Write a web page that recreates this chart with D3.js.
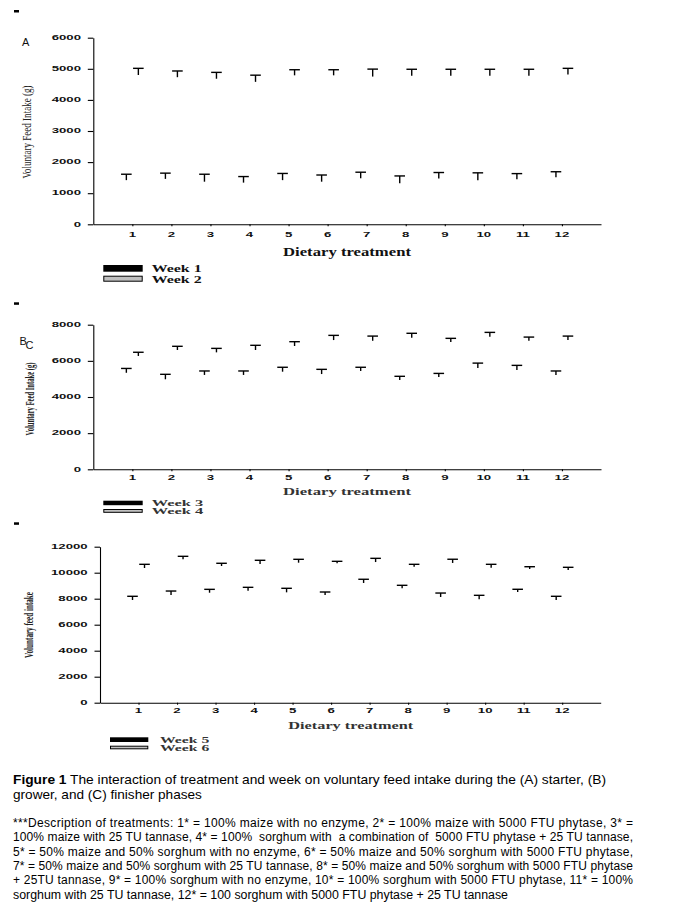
<!DOCTYPE html>
<html><head><meta charset="utf-8">
<script src="https://cdn.jsdelivr.net/npm/d3@7/dist/d3.min.js"></script>
<style>body{margin:0;background:#fff}svg{display:block}</style>
</head><body>
<svg id="c" width="678" height="910"></svg>
<script>
// ---------- DATA ----------
const treatments = [1,2,3,4,5,6,7,8,9,10,11,12];
const panelLetters = ["A","B","C"];
const weekNames = ["Week 1","Week 2","Week 3","Week 4","Week 5","Week 6"];
const yTitles = ["Voluntary Feed Intake (g)","Voluntary Feed Intake (g)","Voluntary feed intake"];
const xTitle = "Dietary treatment";

const week1Mean = [1420,1460,1370,1340,1420,1370,1480,1320,1470,1420,1450,1510];
const week1Err  = [190,185,240,195,215,215,195,235,195,235,180,180];
const week2Mean = [4800,4730,4680,4580,4790,4790,4750,4780,4780,4780,4780,4820];
const week2Err  = [215,200,205,215,180,180,240,205,205,205,205,195];

const week3Mean = [5340,4980,5220,5220,5400,5270,5440,4940,5100,5600,5490,5220];
const week3Err  = [240,275,220,220,245,260,205,205,205,275,260,220];
const week4Mean = [6270,6600,6470,6600,6820,7150,7110,7280,7040,7330,7110,7150];
const week4Err  = [205,205,220,260,240,260,260,245,205,245,205,220];

const week5Mean = [7900,8285,8460,8615,8490,8285,9210,8800,8130,7950,8515,7900];
const week5Err  = [285,305,260,260,310,230,285,230,305,310,210,285];
const week6Mean = [10360,11030,10515,10670,10770,10720,10820,10460,10750,10385,10285,10210];
const week6Err  = [285,230,210,285,260,155,285,185,285,260,175,205];

const yTicksA = [0,1000,2000,3000,4000,5000,6000];
const yTicksB = [0,2000,4000,6000,8000];
const yTicksC = [0,2000,4000,6000,8000,10000,12000];

const captionTitle = "Figure 1";
const captionLines = [
  " The interaction of treatment and week on voluntary feed intake during the (A) starter, (B)",
  "grower, and (C) finisher phases"
];
const descLines = [
  "***Description of treatments: 1* = 100% maize with no enzyme, 2* = 100% maize with 5000 FTU phytase, 3* =",
  "100% maize with 25 TU tannase, 4* = 100%  sorghum with  a combination of  5000 FTU phytase + 25 TU tannase,",
  "5* = 50% maize and 50% sorghum with no enzyme, 6* = 50% maize and 50% sorghum with 5000 FTU phytase,",
  "7* = 50% maize and 50% sorghum with 25 TU tannase, 8* = 50% maize and 50% sorghum with 5000 FTU phytase",
  "+ 25TU tannase, 9* = 100% sorghum with no enzyme, 10* = 100% sorghum with 5000 FTU phytase, 11* = 100%",
  "sorghum with 25 TU tannase, 12* = 100 sorghum with 5000 FTU phytase + 25 TU tannase"
];

// ---------- DRAW ----------
const svg = d3.select("#c");

function squat(parent, x, y, txt, anchor, size, sx, weight) {
  parent.append("g").attr("transform", `translate(${x},${y}) scale(${sx},1)`)
    .append("text").attr("text-anchor", anchor).attr("dominant-baseline", "central")
    .attr("font-family", "Liberation Sans, Arial, sans-serif")
    .attr("font-weight", weight || "bold").attr("font-size", size).attr("fill", "#111")
    .text(txt);
}

const panels = [
  {mark: 10, left: 93.3, right: 601, top: 37.7, bottom: 224.3, ymax: 6000, ticks: yTicksA,
   series: [[week1Mean, week1Err],[week2Mean, week2Err]], weeks: [weekNames[0], weekNames[1]],
   yTitle: yTitles[0], yTitleX: 27, yTitleY: 132, yTitleLen: 93, yTitleSize: 12.5,
   xTitleY: 252, xTitleSize: 12, xTitleX0: 283, xTitleLen: 128, xLabDy: 10.7,
   leg: {x: 103.3, w: 39.4, y1: 265, h1: 6.7, y2: 275.7, h2: 6, tx: 151.7, tlen: 50, ty1: 268.3, ty2: 279, size: 10}},
  {mark: 302.3, left: 93.3, right: 601, top: 324.7, bottom: 469.3, ymax: 8000, ticks: yTicksB,
   series: [[week3Mean, week3Err],[week4Mean, week4Err]], weeks: [weekNames[2], weekNames[3]],
   yTitle: yTitles[1], yTitleX: 29.5, yTitleY: 399, yTitleLen: 73, yTitleSize: 13.5,
   xTitleY: 491, xTitleSize: 10, xTitleX0: 283, xTitleLen: 128, xLabDy: 8.4,
   leg: {x: 103.3, w: 39.4, y1: 500.7, h1: 4.5, y2: 509, h2: 3.8, tx: 151.7, tlen: 51.5, ty1: 503, ty2: 511, size: 7.5}},
  {mark: 522.3, left: 100, right: 600.7, top: 546.7, bottom: 702.7, ymax: 12000, ticks: yTicksC,
   series: [[week5Mean, week5Err],[week6Mean, week6Err]], weeks: [weekNames[4], weekNames[5]],
   yTitle: yTitles[2], yTitleX: 29, yTitleY: 625, yTitleLen: 66, yTitleSize: 12.5,
   xTitleY: 725, xTitleSize: 10, xTitleX0: 288.3, xTitleLen: 125, xLabDy: 8.3,
   leg: {x: 110, w: 38.3, y1: 737.3, h1: 4.7, y2: 745.7, h2: 3.6, tx: 160, tlen: 49.3, ty1: 740, ty2: 748, size: 7.5}}
];

panels.forEach((p, pi) => {
  const g = svg.append("g");
  g.append("rect").attr("x", 14).attr("y", p.mark).attr("width", 5).attr("height", 2.5).attr("fill", "#000");

  const x = d3.scaleLinear().domain([0, 13]).range([p.left, p.right]);
  const y = d3.scaleLinear().domain([0, p.ymax]).range([p.bottom, p.top]);
  const off = d3.scalePoint().domain([0, 1]).range([-6, 6]);

  const ya = g.append("g").attr("transform", `translate(${p.left},0)`)
    .call(d3.axisLeft(y).tickValues(p.ticks).tickSize(5.5).tickSizeOuter(0).tickFormat(""));
  ya.selectAll("path,line").attr("stroke", "#000").attr("stroke-width", 1.1);
  p.ticks.forEach(t => squat(g, p.left - 12.3, y(t), String(t), "end", 6.6, 2.0));

  const xa = g.append("g").attr("transform", `translate(0,${p.bottom})`)
    .call(d3.axisBottom(x).tickValues(treatments).tickSize(2).tickSizeOuter(0).tickFormat(""));
  xa.selectAll("path,line").attr("stroke", "#000").attr("stroke-width", 1.1);
  treatments.forEach(t => squat(g, x(t), p.bottom + p.xLabDy, String(t), "middle", 6.6, 2.0));

  p.series.forEach((s, si) => {
    const [means, errs] = s;
    const bars = g.append("g").selectAll("g").data(treatments).join("g");
    bars.append("line")
      .attr("x1", d => x(d) + off(si)).attr("x2", d => x(d) + off(si))
      .attr("y1", (d, i) => y(means[i])).attr("y2", (d, i) => y(means[i] + errs[i]))
      .attr("stroke", "#000").attr("stroke-width", 1.4);
    bars.append("line")
      .attr("x1", d => x(d) + off(si) - 5.3).attr("x2", d => x(d) + off(si) + 5.3)
      .attr("y1", (d, i) => y(means[i] + errs[i])).attr("y2", (d, i) => y(means[i] + errs[i]))
      .attr("stroke", "#000").attr("stroke-width", 1.4);
  });

  g.append("text").attr("transform", `translate(${p.yTitleX},${p.yTitleY}) rotate(-90)`)
    .attr("text-anchor", "middle").attr("dominant-baseline", "central")
    .attr("font-family", "Liberation Serif, Times New Roman, serif")
    .attr("font-size", p.yTitleSize).attr("font-weight", pi === 0 ? "normal" : "bold").attr("fill", "#222")
    .attr("textLength", p.yTitleLen).attr("lengthAdjust", "spacingAndGlyphs")
    .text(p.yTitle);

  g.append("text").attr("x", p.xTitleX0).attr("y", p.xTitleY)
    .attr("dominant-baseline", "central")
    .attr("font-family", "Liberation Serif, Times New Roman, serif")
    .attr("font-size", p.xTitleSize).attr("font-weight", "bold").attr("fill", pi === 0 ? "#111" : "#333")
    .attr("textLength", p.xTitleLen).attr("lengthAdjust", "spacingAndGlyphs")
    .text(xTitle);

  const L = p.leg;
  g.append("rect").attr("x", L.x).attr("y", L.y1).attr("width", L.w).attr("height", L.h1).attr("fill", "#000");
  g.append("rect").attr("x", L.x + 0.5).attr("y", L.y2 + 0.5).attr("width", L.w - 1).attr("height", L.h2 - 1)
    .attr("fill", "#c0c0c0").attr("stroke", "#000").attr("stroke-width", 1);
  [[p.weeks[0], L.ty1], [p.weeks[1], L.ty2]].forEach(([t, ty]) => {
    g.append("text").attr("x", L.tx).attr("y", ty).attr("dominant-baseline", "central")
      .attr("font-family", "Liberation Serif, Times New Roman, serif")
      .attr("font-size", L.size).attr("font-weight", "bold").attr("fill", pi === 0 ? "#111" : "#333")
      .attr("textLength", L.tlen).attr("lengthAdjust", "spacingAndGlyphs")
      .text(t);
  });
});

svg.append("text").attr("x", 22).attr("y", 42).attr("dominant-baseline", "central")
  .attr("font-family", "Liberation Sans, Arial, sans-serif").attr("font-size", 11).attr("fill", "#111").text(panelLetters[0]);
svg.append("text").attr("x", 19.5).attr("y", 341).attr("dominant-baseline", "central")
  .attr("font-family", "Liberation Sans, Arial, sans-serif").attr("font-size", 11).attr("fill", "#111").text(panelLetters[1]);
svg.append("text").attr("x", 25.5).attr("y", 344.5).attr("dominant-baseline", "central")
  .attr("font-family", "Liberation Sans, Arial, sans-serif").attr("font-size", 11).attr("fill", "#111").text(panelLetters[2]);

// caption
const cap = svg.append("text").attr("x", 13).attr("y", 783.8)
  .attr("font-family", "Liberation Sans, Arial, sans-serif").attr("font-size", 13.6).attr("fill", "#000")
  .attr("textLength", 593).attr("lengthAdjust", "spacingAndGlyphs");
cap.append("tspan").attr("font-weight", "bold").text(captionTitle);
cap.append("tspan").text(captionLines[0]);
svg.append("text").attr("x", 13).attr("y", 798.8)
  .attr("font-family", "Liberation Sans, Arial, sans-serif").attr("font-size", 13.6).attr("fill", "#000")
  .text(captionLines[1]);

descLines.forEach((t, i) => {
  const tx = svg.append("text").attr("x", 13).attr("y", 827 + i * 14.3)
    .attr("font-family", "Liberation Sans, Arial, sans-serif").attr("font-size", 12).attr("fill", "#000")
    .attr("xml:space", "preserve").style("white-space", "pre")
    .text(t);
  if (i < descLines.length - 1) tx.attr("textLength", 620).attr("lengthAdjust", "spacing");
  else tx.attr("textLength", 495).attr("lengthAdjust", "spacingAndGlyphs");
});
</script>
</body></html>
